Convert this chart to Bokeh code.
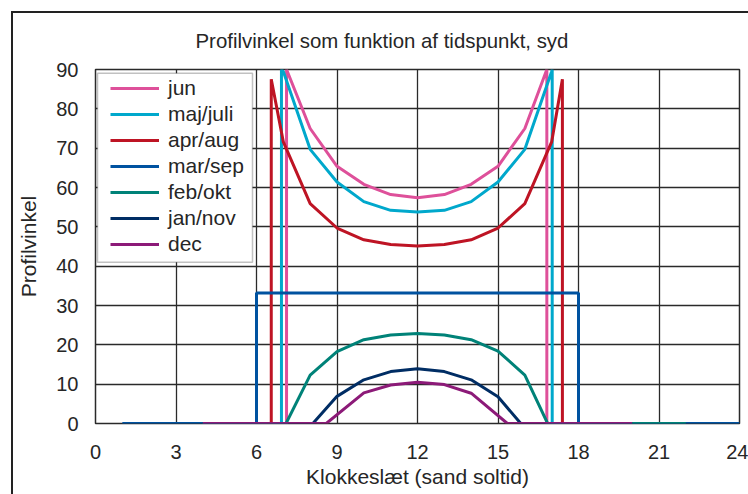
from bokeh.plotting import figure
from bokeh.models import (Legend, LegendItem, BoxAnnotation, FixedTicker, Range1d, InlineStyleSheet)
from bokeh.embed import file_html
from bokeh.resources import INLINE

# ---------------- data ----------------
title_text = "Profilvinkel som funktion af tidspunkt, syd"
x_title = "Klokkeslæt (sand soltid)"
y_title = "Profilvinkel"
x_ticks = [0, 3, 6, 9, 12, 15, 18, 21, 24]
y_ticks = [0, 10, 20, 30, 40, 50, 60, 70, 80, 90]

names = ["jun", "maj/juli", "apr/aug", "mar/sep", "feb/okt", "jan/nov", "dec"]
colors = ["#DE509A", "#00A8CC", "#BE1424", "#0052A0", "#008278", "#002D64", "#8C1A78"]

jun_x = [4, 7.12, 7.12, 8, 9, 10, 11, 12, 13, 14, 15, 16, 16.82, 16.82, 20]
jun_y = [0, 0, 90, 75.0, 65.4, 60.8, 58.2, 57.4, 58.2, 60.8, 65.4, 75.0, 90, 0, 0]

majjuli_x = [4, 6.93, 6.93, 7, 8, 9, 10, 11, 12, 13, 14, 15, 16, 17, 17.02, 17.02, 20]
majjuli_y = [0, 0, 90, 89.5, 69.7, 61.4, 56.4, 54.2, 53.8, 54.2, 56.4, 61.4, 69.7, 89.5, 90, 0, 0]

apraug_x = [4, 6.55, 6.55, 7, 8, 9, 10, 11, 12, 13, 14, 15, 16, 17, 17.4, 17.4, 20]
apraug_y = [0, 0, 87.5, 71.6, 55.9, 49.7, 46.7, 45.5, 45.1, 45.5, 46.7, 49.7, 55.9, 71.6, 87.5, 0, 0]

marsep_x = [1, 6, 6, 18, 18, 24]
marsep_y = [0, 0, 33.2, 33.2, 0, 0]

febokt_x = [4, 7.1, 8, 9, 10, 11, 12, 13, 14, 15, 16, 16.85, 22]
febokt_y = [0, 0, 12.3, 18.3, 21.3, 22.5, 22.9, 22.5, 21.3, 18.4, 12.3, 0, 0]

jannov_x = [4, 8.1, 9, 10, 11, 12, 13, 14, 15, 15.85, 20]
jannov_y = [0, 0, 6.9, 11.1, 13.2, 13.9, 13.2, 11.1, 6.8, 0, 0]

dec_x = [4, 8.6, 10, 11, 12, 13, 14, 15.35, 20]
dec_y = [0, 0, 7.8, 9.8, 10.5, 9.9, 7.7, 0, 0]

series_x = [jun_x, majjuli_x, apraug_x, marsep_x, febokt_x, jannov_x, dec_x]
series_y = [jun_y, majjuli_y, apraug_y, marsep_y, febokt_y, jannov_y, dec_y]

# ---------------- figure ----------------
FONT = "Liberation Sans"
TXT = "#262626"
GRID = "#2a2a2a"

p = figure(width=748, height=494, x_range=Range1d(0, 24), y_range=Range1d(0, 90),
           output_backend="svg", toolbar_location=None,
           min_border_left=95, min_border_right=9, min_border_top=69, min_border_bottom=71)
p.background_fill_color = "white"
p.border_fill_color = "white"
p.outline_line_color = GRID
p.outline_line_width = 1.5

p.title.text = title_text
p.title.align = "left"
p.title.offset = 100
p.title.standoff = 36
p.title.text_font = FONT
p.title.text_font_size = "20.4px"
p.title.text_font_style = "normal"
p.title.text_color = TXT

p.xaxis.ticker = FixedTicker(ticks=x_ticks)
p.yaxis.ticker = FixedTicker(ticks=y_ticks)
for ax in (p.xaxis, p.yaxis):
    ax.axis_line_color = None
    ax.major_tick_line_color = None
    ax.minor_tick_line_color = None
    ax.major_tick_out = 0
    ax.major_tick_in = 0
    ax.minor_tick_out = 0
    ax.minor_tick_in = 0
    ax.major_label_text_font = FONT
    ax.major_label_text_font_size = "20px"
    ax.major_label_text_color = TXT
    ax.axis_label_text_font = FONT
    ax.axis_label_text_font_size = "21px"
    ax.axis_label_text_font_style = "normal"
    ax.axis_label_text_color = TXT
p.xaxis.major_label_standoff = 21
p.yaxis.major_label_standoff = 17
p.xaxis.axis_label = x_title
p.yaxis.axis_label = y_title
p.xaxis.axis_label_standoff = 3
p.yaxis.axis_label_standoff = 13

for g in (p.xgrid, p.ygrid):
    g.grid_line_color = GRID
    g.grid_line_width = 1.3

renderers = []
for xs, ys, c in zip(series_x, series_y, colors):
    r = p.line(xs, ys, line_color=c, line_width=3)
    renderers.append(r)

# legend box
lbox = BoxAnnotation(left=97, right=252, top=72.7, bottom=261.7,
                     left_units="canvas", right_units="canvas",
                     top_units="canvas", bottom_units="canvas",
                     fill_color="white", fill_alpha=1, line_color="#333333", line_width=1.5)
p.add_layout(lbox)

legend = Legend(items=[LegendItem(label=n, renderers=[r]) for n, r in zip(names, renderers)],
                location=(15, 166), padding=0, spacing=0, margin=0,
                border_line_alpha=0, background_fill_alpha=0,
                glyph_width=49, glyph_height=26, label_height=26, label_standoff=9,
                label_text_font=FONT, label_text_font_size="21px", label_text_color=TXT)
p.add_layout(legend)

# outer chart border (left and top edges of the chart area)
css = (":host { position: relative; } "
       ":host::after { content: ''; position: absolute; left: 11px; top: 11px; "
       "width: 737px; height: 483px; box-sizing: border-box; "
       "border-left: 2.5px solid #222; border-top: 2.5px solid #222; "
       "pointer-events: none; z-index: 10; }")
p.stylesheets = [InlineStyleSheet(css=css)]

open("out.html", "w").write(file_html(p, INLINE))
